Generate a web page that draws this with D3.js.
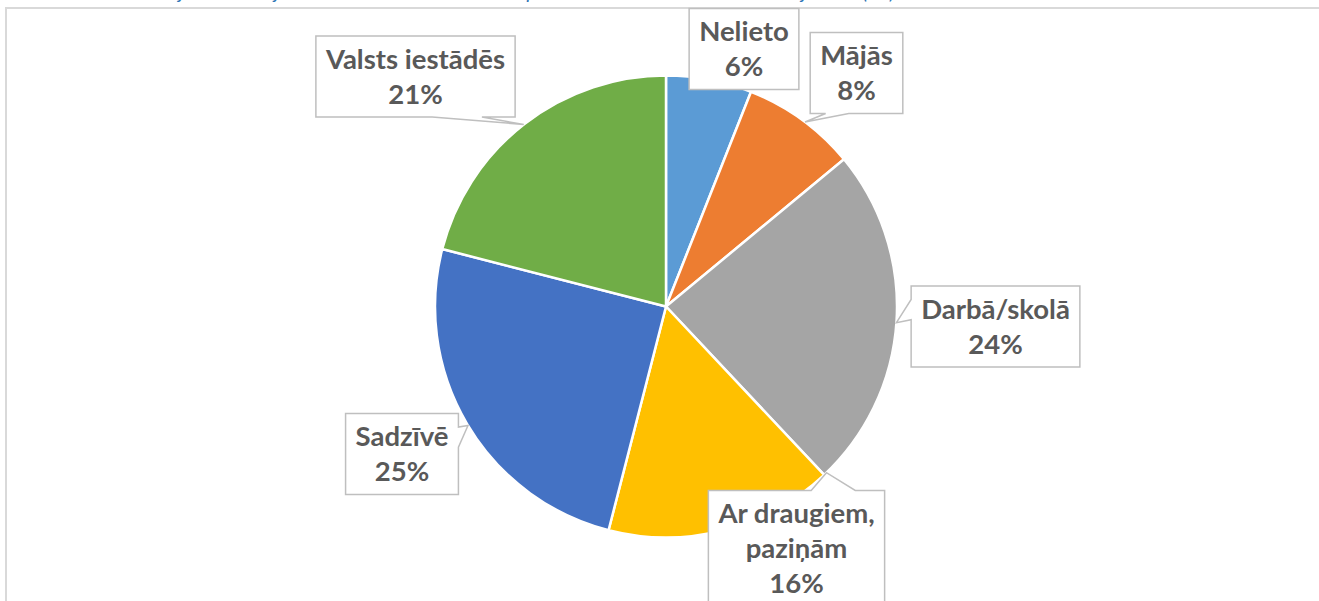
<!DOCTYPE html>
<html>
<head>
<meta charset="utf-8">
<script src="https://cdn.jsdelivr.net/npm/d3@7"></script>
<style>
  html, body { margin: 0; padding: 0; background: #fff; }
  svg { display: block; }
</style>
</head>
<body>
<div id="chart"></div>
<script>
// data
const categories = ['Nelieto', 'Mājās', 'Darbā/skolā', 'Ar draugiem, paziņām', 'Sadzīvē', 'Valsts iestādēs']
const values = [6, 8, 24, 16, 25, 21]
const colors = ['#5B9BD5', '#ED7D31', '#A5A5A5', '#FFC000', '#4472C4', '#70AD47']
const caption = '2. attēls. Kur jūs lietojat valsts valodu? Respondentu atbilžu sadalījums (%)'

// label layout: box centre relative to pie centre, tip angle (deg), wedge side
const callouts = [
    { dx: 78, dy: -257.5, tip: 11, side: null },
    { dx: 190.5, dy: -233.5, tip: 37, side: 'bottom' },
    { dx: 329.5, dy: 20, tip: 94, side: 'left' },
    { dx: 130.5, dy: 242, tip: 136, side: 'top' },
    { dx: -264, dy: 147.5, tip: 239, side: 'right' },
    { dx: -250.5, dy: -230, tip: 322, side: 'bottom' }
]

const width = 1319, height = 601
const cx = 666, cy = 306.5, radius = 231
const lineH = 35

const svg = d3.select('#chart').append('svg')
    .attr('width', width)
    .attr('height', height)

// chart frame
svg.append('rect')
    .attr('x', 6).attr('y', 8)
    .attr('width', width + 20).attr('height', height + 20)
    .attr('fill', 'none')
    .attr('stroke', '#D9D9D9')
    .attr('stroke-width', 2)

// caption, sits almost entirely above the page edge
svg.append('text')
    .attr('x', 20).attr('y', -1)
    .attr('font-family', 'Lato, sans-serif')
    .attr('font-style', 'italic')
    .attr('font-size', 20)
    .attr('fill', '#2E75B6')
    .attr('textLength', 875)
    .attr('lengthAdjust', 'spacing')
    .text(caption)

const pie = d3.pie().sort(null).value(d => d)
const arcs = pie(values)
const arc = d3.arc().innerRadius(0).outerRadius(radius)

const g = svg.append('g').attr('transform', `translate(${cx},${cy})`)

g.selectAll('path.slice')
    .data(arcs)
    .enter()
    .append('path')
        .attr('class', 'slice')
        .attr('d', arc)
        .attr('fill', (d, i) => colors[i])
        .attr('stroke', '#fff')
        .attr('stroke-width', 2.5)
        .attr('stroke-linejoin', 'round')

const pct = d3.format('.0%')

// callout shape like the office wedgeRectCallout
const calloutPath = (x0, y0, w, h, tx, ty, side) => {
    const x1 = x0 + w, y1 = y0 + h
    const ccx = x0 + w / 2, ccy = y0 + h / 2
    const pts = [[x0, y0]]
    if (side === 'top') {
        const [a, b] = tx > ccx ? [7, 10] : [2, 5]
        pts.push([x0 + w * a / 12, y0], [tx, ty], [x0 + w * b / 12, y0])
    }
    pts.push([x1, y0])
    if (side === 'right') {
        const [a, b] = ty > ccy ? [7, 10] : [2, 5]
        pts.push([x1, y0 + h * a / 12], [tx, ty], [x1, y0 + h * b / 12])
    }
    pts.push([x1, y1])
    if (side === 'bottom') {
        const [a, b] = tx > ccx ? [10, 7] : [5, 2]
        pts.push([x0 + w * a / 12, y1], [tx, ty], [x0 + w * b / 12, y1])
    }
    pts.push([x0, y1])
    if (side === 'left') {
        const [a, b] = ty > ccy ? [10, 7] : [5, 2]
        pts.push([x0, y0 + h * a / 12], [tx, ty], [x0, y0 + h * b / 12])
    }
    return 'M' + pts.map(p => p.join(',')).join('L') + 'Z'
}

const labels = svg.append('g').attr('class', 'labels')

arcs.forEach((d, i) => {
    const c = callouts[i]
    const lines = categories[i].replace(', ', ',\n').split('\n').concat(pct(values[i] / 100))
    const lg = labels.append('g')
    const box = lg.append('path')
    const bx = cx + c.dx, by = cy + c.dy
    const texts = lg.selectAll('text')
        .data(lines)
        .enter()
        .append('text')
            .attr('x', bx)
            .attr('y', (t, j) => by + (j - (lines.length - 1) / 2) * lineH)
            .attr('dy', '0.36em')
            .attr('text-anchor', 'middle')
            .attr('font-family', 'Lato, sans-serif')
            .attr('font-weight', 'bold')
            .attr('font-size', 27.5)
            .attr('fill', '#595959')
            .text(t => t)
    let tw = 0
    texts.each(function () { tw = Math.max(tw, this.getComputedTextLength()) })
    const w = tw + 20, h = lines.length * lineH + 11
    const a = c.tip * Math.PI / 180
    const tx = cx + radius * Math.sin(a), ty = cy - radius * Math.cos(a)
    box.attr('d', calloutPath(bx - w / 2, by - h / 2, w, h, tx, ty, c.side))
        .attr('fill', '#fff')
        .attr('stroke', '#BFBFBF')
        .attr('stroke-width', 1.5)
})
</script>
</body>
</html>
